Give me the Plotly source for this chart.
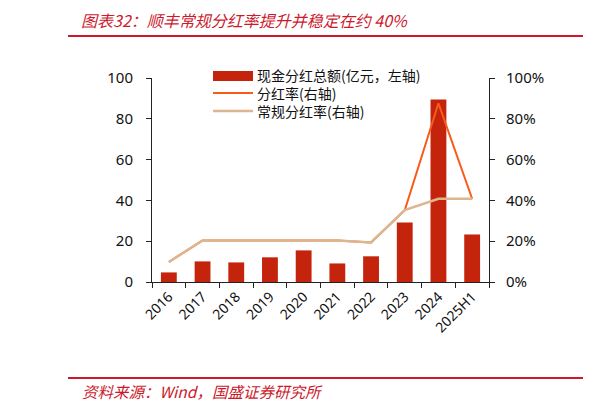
import plotly.graph_objects as go

years = ["2016", "2017", "2018", "2019", "2020", "2021", "2022", "2023", "2024", "2025H1"]
dividend_total = [4.7, 10.1, 9.6, 12.1, 15.5, 9.1, 12.6, 29.2, 89.4, 23.3]
payout_ratio = [0.098, 0.204, 0.204, 0.204, 0.204, 0.204, 0.194, 0.352, 0.876, 0.408]
regular_payout = [0.098, 0.204, 0.204, 0.204, 0.204, 0.204, 0.194, 0.352, 0.408, 0.408]

legend_labels = ["现金分红总额(亿元，左轴)", "分红率(右轴)", "常规分红率(右轴)"]
title_text = "图表32：顺丰常规分红率提升并稳定在约 40%"
source_text = "资料来源：Wind，国盛证券研究所"

BAR_C = "#C4240C"
ORANGE = "#FA5A18"
TAN = "#DDB58E"
RED = "#CC1A2C"

# page offset (default body margin) and target plot box in window pixels
OFF = 8
W, H = 612, 410
PX0, PX1, PY0, PY1 = 152, 489, 78, 282
L, T = PX0 - OFF, PY0 - OFF
R = W - (PX1 - OFF)
B = H - (PY1 - OFF)
PW, PH = PX1 - PX0, PY1 - PY0

def px(x):
    return (x - PX0) / PW

def py(y):
    return (PY1 - y) / PH

FONT = "Noto Sans, Noto Sans CJK SC, sans-serif"
CJK = "Noto Sans CJK SC, sans-serif"

fig = go.Figure()
fig.add_trace(go.Bar(x=years, y=dividend_total, marker_color=BAR_C, marker_line_width=0,
                     name=legend_labels[0], showlegend=False))
fig.add_trace(go.Scatter(x=years, y=payout_ratio, yaxis="y2", mode="lines",
                         line=dict(color=ORANGE, width=2), name=legend_labels[1], showlegend=False))
fig.add_trace(go.Scatter(x=years, y=regular_payout, yaxis="y2", mode="lines",
                         line=dict(color=TAN, width=2.5), name=legend_labels[2], showlegend=False))

axis_common = dict(showline=True, linecolor="#222", linewidth=1, ticks="outside",
                   ticklen=5, tickcolor="#222", showgrid=False, zeroline=False,
                   tickfont=dict(family=FONT, size=15, color="#111"))

fig.update_layout(
    width=W, height=H,
    margin=dict(l=L, r=R, t=T, b=B),
    paper_bgcolor="white", plot_bgcolor="white",
    bargap=0.53,
    xaxis=dict(**{**axis_common, "tickfont": dict(family=FONT, size=14, color="#111")},
               tickangle=-45, tickson="boundaries", type="category"),
    yaxis=dict(**axis_common, range=[0, 100], tickvals=[0, 20, 40, 60, 80, 100],
               ticklabelstandoff=10),
    yaxis2=dict(**axis_common, range=[0, 1], overlaying="y", side="right",
                tickvals=[0, 0.2, 0.4, 0.6, 0.8, 1.0], tickformat=".0%",
                ticklabelstandoff=8),
    showlegend=False,
)

shapes = []
for yy in (36, 378):
    shapes.append(dict(type="line", xref="paper", yref="paper", x0=px(68), x1=px(583),
                       y0=py(yy), y1=py(yy), line=dict(color=RED, width=2)))
    shapes.append(dict(type="line", xref="paper", yref="paper", x0=px(607), x1=px(625),
                       y0=py(yy), y1=py(yy), line=dict(color=RED, width=2)))
# legend symbols
shapes.append(dict(type="rect", xref="paper", yref="paper", x0=px(213), x1=px(253),
                   y0=py(81), y1=py(71), fillcolor=BAR_C, line=dict(width=0)))
shapes.append(dict(type="line", xref="paper", yref="paper", x0=px(213), x1=px(253),
                   y0=py(93), y1=py(93), line=dict(color=ORANGE, width=2)))
shapes.append(dict(type="line", xref="paper", yref="paper", x0=px(213), x1=px(253),
                   y0=py(111), y1=py(111), line=dict(color=TAN, width=2.5)))

annotations = []
annotations.append(dict(text="<br>".join(legend_labels), xref="paper", yref="paper",
                        x=px(256), y=py(93), xanchor="left", yanchor="middle", align="left",
                        showarrow=False, borderpad=0,
                        font=dict(family=CJK, size=14, color="#111")))
annotations.append(dict(text="<i>" + title_text + "</i>", xref="paper", yref="paper",
                        x=px(79), y=py(20), xanchor="left", yanchor="middle", showarrow=False,
                        font=dict(family=CJK, size=16, color=RED)))
annotations.append(dict(text="<i>" + source_text + "</i>", xref="paper", yref="paper",
                        x=px(80), y=py(391), xanchor="left", yanchor="middle", showarrow=False,
                        font=dict(family=CJK, size=15.5, color=RED)))

fig.update_layout(shapes=shapes, annotations=annotations)
fig.write_html("out.html")
